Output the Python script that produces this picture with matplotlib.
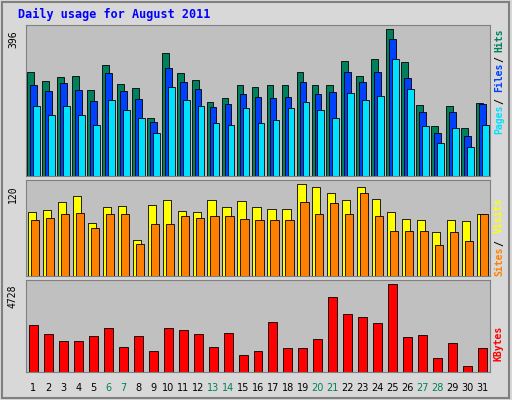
import matplotlib
matplotlib.use("Agg")
import matplotlib.pyplot as plt
import numpy as np

days = list(range(1, 32))
hits = [281,257,268,270,232,300,248,237,158,333,278,259,199,210,246,240,246,246,281,246,246,311,270,317,396,308,191,134,188,131,196]
files = [246,229,251,232,202,278,229,207,145,292,254,235,186,194,221,213,210,213,254,221,227,281,254,281,369,265,172,117,172,109,194]
pages = [188,164,188,164,137,205,177,158,117,240,205,188,142,139,183,142,150,183,199,177,158,224,205,216,317,235,134,90,131,79,137]
visits = [83,86,96,104,69,90,91,47,92,99,84,83,99,90,98,90,87,87,119,116,108,99,116,100,83,74,73,57,73,72,80]
sites = [73,75,80,82,63,80,80,41,67,67,78,76,78,78,74,73,73,73,96,80,95,80,108,78,59,59,59,40,57,45,80]
kbytes = [2529,2034,1649,1649,1925,2365,1375,1925,1155,2365,2255,2034,1375,2090,935,1155,2695,1320,1320,1760,4070,3135,2970,2640,4728,1870,1980,770,1540,330,1320]
weekends = [6,7,13,14,20,21,27,28]

W, H = 512, 400
fig = plt.figure(figsize=(W/100, H/100), dpi=100, facecolor="#D8D8D8")
fig.patches.append(plt.Rectangle((0.004,0.004),0.99,0.99,transform=fig.transFigure,fill=False,edgecolor="#808080",lw=1.5))

def ax_px(x0, y0, x1, y1):
    return fig.add_axes([x0/W, 1-y1/H, (x1-x0)/W, (y1-y0)/H])

x = np.array(days)
def style(ax, top, m):
    ax.set_facecolor("#C0C0C0")
    ax.set_xlim(0.5, 31.5)
    ax.set_ylim(0, top*m)
    ax.set_xticks([]); ax.set_yticks([])
    for s in ax.spines.values():
        s.set_color("#808080")

a1 = ax_px(26, 25, 490, 176)
style(a1, 396, 1.03)
bw = 0.45
a1.bar(x-0.2, hits, bw, color="#00805C", edgecolor="black", lw=0.6)
a1.bar(x, files, bw, color="#0040FF", edgecolor="black", lw=0.6)
a1.bar(x+0.2, pages, bw, color="#00E0FF", edgecolor="black", lw=0.6)

a2 = ax_px(26, 180, 490, 276)
style(a2, 120, 1.04)
a2.bar(x-0.1, visits, 0.55, color="#FFFF00", edgecolor="black", lw=0.6)
a2.bar(x+0.1, sites, 0.55, color="#FF8000", edgecolor="black", lw=0.6)

a3 = ax_px(26, 280, 490, 372)
style(a3, 4728, 1.05)
a3.bar(x, kbytes, 0.6, color="#FF0000", edgecolor="black", lw=0.6)

fig.text(18/W, 1-14/H, "Daily usage for August 2011", color="#0000FF",
         family="DejaVu Sans Mono", weight="bold", fontsize=8.5, va="center")
for lab, yp in [("396", 30), ("120", 185), ("4728", 284)]:
    fig.text(13/W, 1-yp/H, lab, rotation=90, fontsize=7, va="top", ha="center", family="DejaVu Sans Mono")

def right_label(parts, ytop):
    y = ytop
    for txt, col in parts:
        fig.text(499/W, 1-y/H, txt, rotation=90, color=col, fontsize=7,
                 family="DejaVu Sans Mono", weight="bold", va="top", ha="center")
        y += len(txt)*7.0
right_label([("Hits","#00805C"),("/","#000000"),("Files","#0040FF"),("/","#000000"),("Pages","#00E0FF")], 28)
right_label([("Visits","#FFFF00"),("/","#000000"),("Sites","#FF8000")], 198)
right_label([("KBytes","#FF0000")], 326)
for d in days:
    fig.text((26 + (d-0.5)*464/31)/W, 1-388/H, str(d), ha="center", va="center",
             fontsize=7, color="#00805C" if d in weekends else "black")
fig.savefig("out.png", dpi=100, facecolor=fig.get_facecolor())
